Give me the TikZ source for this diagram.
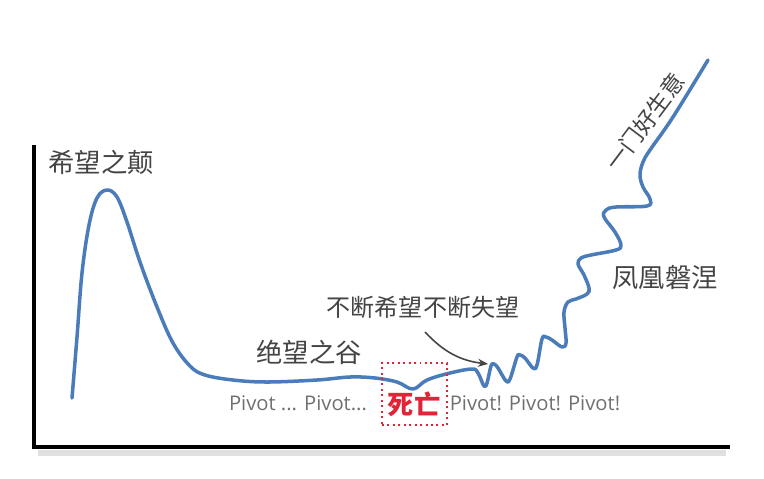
\documentclass[tikz,border=0pt]{standalone}
\usepackage{fontspec}
\setsansfont{Open Sans}
\newfontfamily\cjkfont{Noto Sans CJK SC}
\usetikzlibrary{arrows.meta}
\definecolor{curveblue}{RGB}{74,124,186}
\definecolor{inkgray}{RGB}{68,68,68}
\definecolor{pivotgray}{RGB}{112,112,112}
\definecolor{deathred}{RGB}{226,36,56}

\begin{document}
\begin{tikzpicture}[
    x=0.02cm, y=-0.02cm,
    axisline/.style={black, line width=1.8pt},
    axisshade/.style={black!12, line width=3pt},
    curve/.style={curveblue, line width=2pt, line cap=round, line join=round},
    remark/.style={font=\cjkfont\fontsize{15}{15}\selectfont, text=inkgray, inner sep=0pt},
    pivot/.style={font=\sffamily\fontsize{11.5}{12}\selectfont, text=pivotgray, inner sep=0pt},
    deathbox/.style={draw=deathred, dotted, line width=1.1pt, minimum width=1.3cm, minimum height=1.24cm, inner sep=0pt},
    deathtext/.style={font=\cjkfont\bfseries\fontsize{15}{15}\selectfont, text=deathred, inner sep=0pt},
    pointer/.style={-{Stealth[length=2mm, width=1.6mm]}, inkgray, line width=0.9pt},
]
\useasboundingbox (0,0) rectangle (764,478);

% Axes
\coordinate (ytop) at (34,145);
\coordinate (origin) at (34,447);
\coordinate (xend) at (730,447);
\draw[axisshade] (38,453) -- (726,453);
\draw[axisline] (ytop) -- (origin) -- (xend);

% Curve
\draw[curve] plot[smooth, tension=0.6] coordinates {
    (72,398) (77,337) (82,273) (89,225) (97,198) (107,190) (117,197)
    (127,222) (140,262) (157,307) (173,343) (190,366) (205,375)
    (233,380) (267,382) (317,380) (350,377) (375,378) (397,382)
    (413,389) (427,380) (450,373) (472,369) (478,373) (484,386)
    (487,383) (491,366) (494,364) (498,368) (506,381) (510,379)
    (517,357) (520,355) (525,358) (533,368) (537,365) (542,339)
    (546,337) (552,340) (562,347) (566,343) (565,328) (564,312)
    (568,302) (576,299) (587,294) (589,288) (584,275) (578,264)
    (581,258) (591,255) (616,250) (621,245) (615,232) (604,217)
    (606,210) (616,207) (647,206) (650,199) (643,187) (640,175)
    (643,162) (650,150) (673,117) (708,60)};

% Labels
\node[remark] (peak) at (101,162) {希望之颠};
\node[remark] (valley) at (309,352) {绝望之谷};
\node[remark, font=\cjkfont\fontsize{13.7}{14}\selectfont] (hope) at (423,307) {不断希望不断失望};
\node[remark] (phoenix) at (665,278) {凤凰磐涅};
\node[remark, font=\cjkfont\fontsize{13}{13}\selectfont, rotate=53] (business) at (645,122) {一门好生意};

% Pivots and death
\node[pivot] (pivotslow) at (298,403) {Pivot ... Pivot...};
\node[deathbox] (deathbox) at (414.5,394) {};
\node[deathtext] (death) at (414,404) {死亡};
\node[pivot] (pivotsfast) at (535,403) {Pivot! Pivot! Pivot!};

% Arrow
\coordinate (hopetail) at (425,332);
\coordinate (hopehead) at (488,364);
\draw[pointer] (hopetail) to[bend right=20] (hopehead);

\end{tikzpicture}
\end{document}
